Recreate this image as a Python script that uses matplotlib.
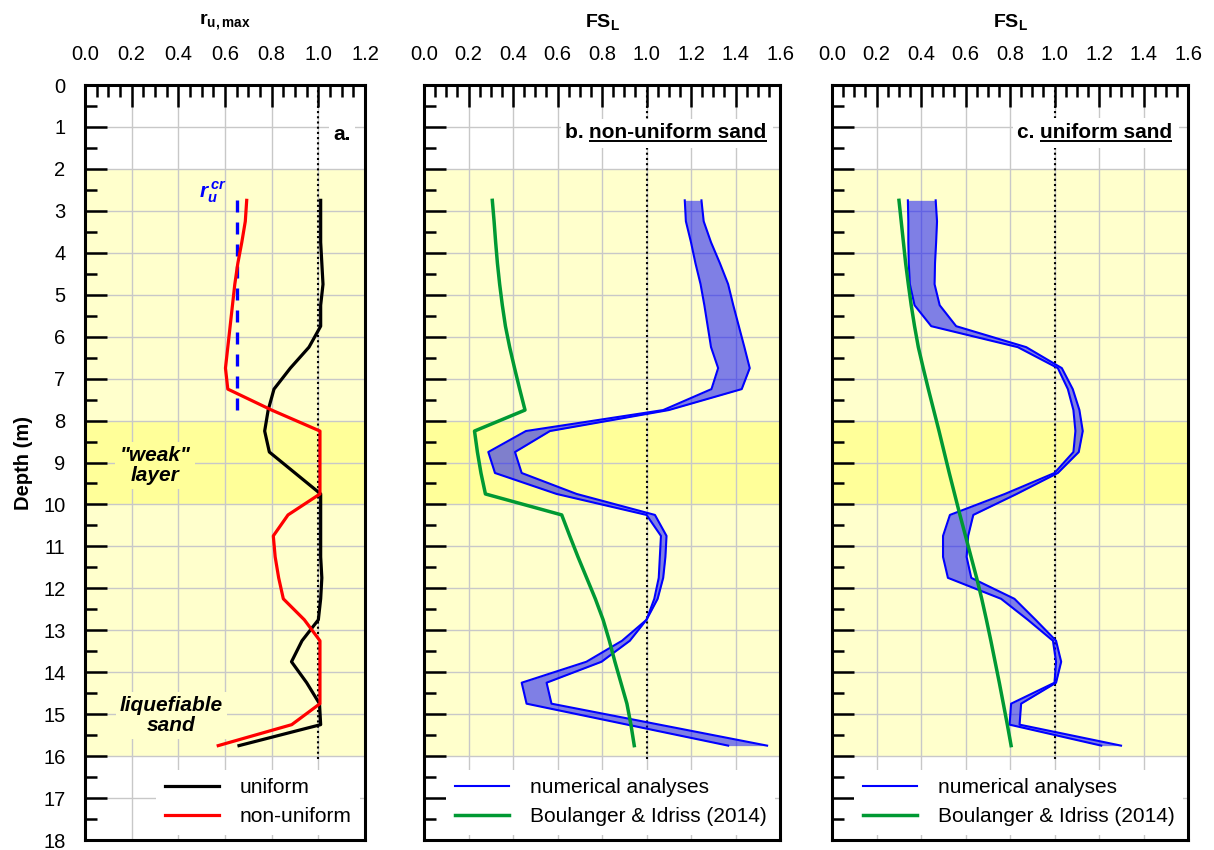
import matplotlib
matplotlib.use('Agg')
import matplotlib.pyplot as plt
from matplotlib.ticker import MultipleLocator, FormatStrFormatter
from matplotlib.patches import Rectangle

plt.rcParams['font.family'] = ['Liberation Sans', 'DejaVu Sans']
plt.rcParams['mathtext.fontset'] = 'custom'
plt.rcParams['mathtext.rm'] = 'Liberation Sans'
plt.rcParams['mathtext.bf'] = 'Liberation Sans:bold'
plt.rcParams['mathtext.it'] = 'Liberation Sans:italic:bold'

# ---- data ----
depth = [2.75, 3.25, 3.75, 4.25, 4.75, 5.25, 5.75, 6.25, 6.75, 7.25, 7.75, 8.25, 8.75, 9.25,
         9.75, 10.25, 10.75, 11.25, 11.75, 12.25, 12.75, 13.25, 13.75, 14.25, 14.75, 15.25, 15.75]

# a. r_u,max
ru_uniform = [1.01, 1.01, 1.01, 1.015, 1.02, 1.01, 1.01, 0.96, 0.88, 0.81, 0.785, 0.77, 0.79, 0.90,
              1.01, 1.01, 1.01, 1.01, 1.015, 1.01, 1.0, 0.93, 0.885, 0.95, 1.005, 1.01, 0.66]
ru_nonuniform = [0.693, 0.687, 0.672, 0.655, 0.642, 0.632, 0.622, 0.612, 0.602, 0.612, 0.80, 1.007,
                 1.007, 1.007, 1.007, 0.87, 0.807, 0.815, 0.83, 0.85, 0.94, 1.007, 1.007, 1.007,
                 1.007, 0.886, 0.571]
ru_cr = 0.65
ru_cr_depth = [2.75, 7.75]

# b. non-uniform sand, FS_L
fs_b_min = [1.172, 1.177, 1.20, 1.22, 1.243, 1.26, 1.275, 1.29, 1.322, 1.292, 1.075, 0.458, 0.289,
            0.319, 0.596, 1.00, 1.065, 1.06, 1.055, 1.035, 1.0, 0.89, 0.73, 0.439, 0.461, 0.914, 1.367]
fs_b_max = [1.247, 1.257, 1.29, 1.33, 1.367, 1.39, 1.415, 1.44, 1.464, 1.428, 1.10, 0.566, 0.409,
            0.439, 0.686, 1.038, 1.09, 1.085, 1.075, 1.05, 1.0, 0.925, 0.798, 0.551, 0.573, 1.058, 1.542]
fs_b_bi = [0.307, 0.315, 0.322, 0.33, 0.34, 0.352, 0.366, 0.385, 0.407, 0.43, 0.454, 0.227, 0.24,
           0.256, 0.276, 0.619, 0.655, 0.692, 0.731, 0.77, 0.805, 0.833, 0.858, 0.885, 0.912, 0.93, 0.945]

# c. uniform sand, FS_L
fs_c_min = [0.341, 0.343, 0.343, 0.345, 0.35, 0.371, 0.446, 0.835, 1.015, 1.06, 1.085, 1.094, 1.085,
            1.0, 0.777, 0.53, 0.499, 0.499, 0.521, 0.76, 0.88, 0.993, 1.007, 1.0, 0.805, 0.798, 1.21]
fs_c_max = [0.466, 0.472, 0.468, 0.463, 0.461, 0.484, 0.558, 0.873, 1.033, 1.082, 1.112, 1.127, 1.109,
            1.015, 0.83, 0.635, 0.612, 0.605, 0.626, 0.82, 0.915, 1.007, 1.03, 1.007, 0.85, 0.843, 1.299]
fs_c_bi = [0.301, 0.311, 0.321, 0.331, 0.343, 0.356, 0.371, 0.388, 0.41, 0.433, 0.457, 0.481, 0.504,
           0.527, 0.551, 0.575, 0.60, 0.625, 0.65, 0.673, 0.694, 0.714, 0.733, 0.752, 0.77, 0.788, 0.805]

LIGHT = '#ffffcc'
BRIGHT = '#ffff99'
GREEN = '#009933'

fig = plt.figure(figsize=(12.14, 8.5), dpi=100)
ax_a = fig.add_axes([85 / 1214, 10 / 850, 280 / 1214, 755 / 850])
ax_b = fig.add_axes([424 / 1214, 10 / 850, 356 / 1214, 755 / 850])
ax_c = fig.add_axes([832 / 1214, 10 / 850, 356 / 1214, 755 / 850])


def setup(ax, xmax, xlabel, show_y):
    ax.set_xlim(0, xmax)
    ax.set_ylim(18, 0)
    ax.set_axisbelow(True)
    # soil layers
    ax.axhspan(2, 16, color=LIGHT, zorder=0.1, lw=0)
    ax.axhspan(8, 10, color=BRIGHT, zorder=0.2, lw=0)
    ax.xaxis.tick_top()
    ax.xaxis.set_major_locator(MultipleLocator(0.2))
    ax.xaxis.set_minor_locator(MultipleLocator(0.05))
    ax.xaxis.set_major_formatter(FormatStrFormatter('%.1f'))
    ax.yaxis.set_major_locator(MultipleLocator(1))
    ax.yaxis.set_minor_locator(MultipleLocator(0.5))
    ax.tick_params(which='major', direction='in', length=16, width=1.8, labelsize=14.5)
    ax.tick_params(which='minor', direction='in', length=8.5, width=1.8)
    ax.tick_params(axis='x', which='both', top=True, bottom=False, pad=15)
    ax.tick_params(axis='y', which='both', left=True, right=False, pad=14, labelleft=show_y)
    ax.grid(True, which='major', color='#c8c8c8', lw=1.0)
    for s in ax.spines.values():
        s.set_linewidth(2.2)
    ax.text(0.5, 1.084, xlabel, transform=ax.transAxes, ha='center', va='center', fontsize=14)
    ax.plot([1.0, 1.0], [0, 16.15], color='black', lw=1.5, ls=(0, (1, 1.5)), zorder=2)


setup(ax_a, 1.2, r'$\mathbf{r_{u,max}}$', True)
setup(ax_b, 1.6, r'$\mathbf{FS_L}$', False)
setup(ax_c, 1.6, r'$\mathbf{FS_L}$', False)
ax_a.set_ylabel('Depth (m)', fontsize=14.5, fontweight='bold', labelpad=7)

# ---- panel a ----
ax_a.plot([ru_cr, ru_cr], ru_cr_depth, color='blue', lw=2.4, ls=(0, (3.6, 3.0)),
          dash_capstyle='butt', zorder=3)
ax_a.plot(ru_uniform, depth, color='black', lw=2.3, label='uniform', zorder=4)
ax_a.plot(ru_nonuniform, depth, color='red', lw=2.3, label='non-uniform', zorder=4)
ax_a.text(0.49, 2.55, r'$r_u^{\,cr}$', color='blue', fontsize=15, ha='left', va='center')
ax_a.text(1.1, 1.17, 'a.', fontsize=15, fontweight='bold', ha='center', va='center',
          bbox=dict(facecolor='white', edgecolor='none', pad=3))
ax_a.text(0.30, 9.07, '"weak"\nlayer', fontsize=15, fontweight='bold', style='italic',
          ha='center', va='center', linespacing=1.1,
          bbox=dict(facecolor=BRIGHT, edgecolor='none', pad=3))
ax_a.text(0.37, 15.03, 'liquefiable\nsand', fontsize=15, fontweight='bold', style='italic',
          ha='center', va='center', linespacing=1.1,
          bbox=dict(facecolor=LIGHT, edgecolor='none', pad=3))
ax_a.legend(loc='lower right', bbox_to_anchor=(1.0, 0.0), fontsize=15, frameon=True,
            facecolor='white', edgecolor='none', framealpha=1, handlelength=2.6,
            handletextpad=1.0, labelspacing=0.5, borderaxespad=0.25, borderpad=0.4)


def band_panel(ax, fmin, fmax, fbi):
    ax.fill_betweenx(depth, fmin, fmax, color='blue', alpha=0.5, lw=0, zorder=3)
    ax.plot(fmin, depth, color='blue', lw=1.5, zorder=4, label='numerical analyses')
    ax.plot(fmax, depth, color='blue', lw=1.5, zorder=4)
    ax.plot(fbi, depth, color=GREEN, lw=2.5, zorder=5, label='Boulanger & Idriss (2014)')
    ax.legend(loc='lower right', bbox_to_anchor=(1.0, 0.0), fontsize=15, frameon=True,
              facecolor='white', edgecolor='none', framealpha=1, handlelength=2.6,
              handletextpad=1.0, labelspacing=0.5, borderaxespad=0.25, borderpad=0.4)


band_panel(ax_b, fs_b_min, fs_b_max, fs_b_bi)
band_panel(ax_c, fs_c_min, fs_c_max, fs_c_bi)


def panel_title(ax, prefix, name, x, y):
    t = ax.text(x, y, name, ha='right', va='center', fontsize=15, fontweight='bold', zorder=7)
    fig.canvas.draw()
    inv = ax.transAxes.inverted()
    bb = t.get_window_extent().transformed(inv)
    p = ax.text(bb.x0, y, prefix, transform=ax.get_yaxis_transform(), ha='right', va='center',
                fontsize=15, fontweight='bold', zorder=7)
    fig.canvas.draw()
    pb = p.get_window_extent().transformed(inv)
    ax.plot([bb.x0, bb.x1], [bb.y0 + 0.0015, bb.y0 + 0.0015], transform=ax.transAxes,
            color='black', lw=1.4, solid_capstyle='butt', zorder=7)
    ax.add_patch(Rectangle((pb.x0 - 0.012, bb.y0 - 0.008), bb.x1 - pb.x0 + 0.03,
                           bb.y1 - bb.y0 + 0.014, transform=ax.transAxes,
                           facecolor='white', edgecolor='none', zorder=6))


panel_title(ax_b, 'b. ', 'non-uniform sand', 1.54, 1.14)
panel_title(ax_c, 'c. ', 'uniform sand', 1.53, 1.13)

fig.savefig('out.png', dpi=100)
